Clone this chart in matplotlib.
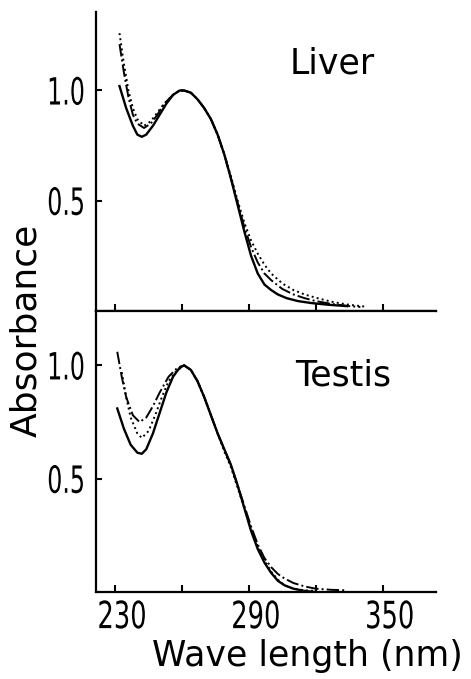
import matplotlib.pyplot as plt
from matplotlib.patheffects import AbstractPathEffect
from matplotlib.transforms import Affine2D
import numpy as np

# Liver spectra (wavelength nm, absorbance)
liv_solid_wl = [232, 235, 238, 240, 242, 244, 247, 250, 253, 256, 259, 261, 264, 267, 270, 273,
                276, 279, 282, 285, 288, 291, 294, 297, 300, 303, 307, 312, 318, 326, 334]
liv_solid = [1.02, 0.92, 0.84, 0.80, 0.79, 0.80, 0.84, 0.89, 0.94, 0.98, 1.0, 1.0, 0.99, 0.96, 0.92, 0.87,
             0.80, 0.71, 0.60, 0.48, 0.36, 0.25, 0.17, 0.12, 0.095, 0.075, 0.058, 0.045, 0.036, 0.028, 0.022]

liv_dot_wl = [232, 234, 236, 238, 240, 243, 246, 249, 252, 256, 259, 261, 264, 267, 270, 273, 276, 279,
              282, 285, 288, 291, 294, 297, 300, 305, 310, 315, 320, 327, 335, 342]
liv_dot = [1.26, 1.12, 1.00, 0.92, 0.87, 0.84, 0.86, 0.90, 0.94, 0.98, 1.0, 1.0, 0.99, 0.96, 0.92, 0.87, 0.80, 0.71,
           0.61, 0.50, 0.40, 0.32, 0.26, 0.21, 0.17, 0.125, 0.095, 0.075, 0.06, 0.042, 0.028, 0.02]

liv_dd_wl = [232, 234, 236, 238, 240, 243, 246, 249, 252, 256, 259, 261, 264, 267, 270, 273, 276, 279,
             282, 285, 288, 291, 294, 297, 300, 305, 310, 315, 320, 327, 335, 340]
liv_dd = [1.21, 1.08, 0.97, 0.89, 0.85, 0.83, 0.85, 0.89, 0.94, 0.98, 1.0, 1.0, 0.99, 0.96, 0.92, 0.87, 0.80, 0.71,
          0.60, 0.49, 0.38, 0.29, 0.22, 0.17, 0.14, 0.10, 0.075, 0.058, 0.045, 0.032, 0.022, 0.018]

# Testis spectra
tes_solid_wl = [231, 234, 237, 240, 242, 244, 247, 250, 253, 256, 259, 261, 264, 267, 270, 273, 276, 279,
                282, 285, 288, 291, 294, 297, 300, 303, 306, 310, 315, 320]
tes_solid = [0.81, 0.72, 0.65, 0.615, 0.61, 0.63, 0.70, 0.79, 0.88, 0.95, 0.99, 1.0, 0.98, 0.93, 0.86, 0.78, 0.70, 0.63,
             0.56, 0.47, 0.37, 0.27, 0.19, 0.13, 0.085, 0.05, 0.03, 0.015, 0.005, 0.0]

tes_dd_wl = [231, 233, 235, 238, 241, 244, 247, 250, 254, 258, 261, 264, 267, 270, 273, 276, 279, 282, 285,
             288, 291, 294, 297, 300, 303, 306, 310, 315, 320, 327, 333]
tes_dd = [1.06, 0.95, 0.86, 0.78, 0.75, 0.77, 0.82, 0.88, 0.95, 0.99, 1.0, 0.98, 0.93, 0.86, 0.78, 0.70, 0.63, 0.56, 0.47,
          0.38, 0.29, 0.21, 0.15, 0.11, 0.08, 0.06, 0.04, 0.025, 0.015, 0.01, 0.008]

tes_dot_wl = [233, 235, 237, 240, 242, 245, 248, 251, 254, 257, 261, 264, 267, 270, 273, 276, 279, 282, 285,
              288, 291, 294, 297, 300, 303, 306, 310, 315, 320]
tes_dot = [0.97, 0.86, 0.77, 0.70, 0.68, 0.71, 0.78, 0.86, 0.93, 0.97, 1.0, 0.98, 0.93, 0.86, 0.78, 0.70, 0.62, 0.55, 0.46,
           0.37, 0.28, 0.20, 0.14, 0.09, 0.055, 0.03, 0.015, 0.008, 0.005]

xticks_major = [230, 290, 350]
xticks_minor = [260, 320]
yticks = [0.5, 1.0]


# the original lettering is tall and narrow: stretch glyphs vertically
class Stretch(AbstractPathEffect):
    def __init__(self, sx, sy, anchor='center', dx=0):
        super().__init__()
        self.sx, self.sy = sx, sy
        self.anchor = anchor
        self.dx = dx

    def draw_path(self, renderer, gc, tpath, affine, rgbFace=None):
        ext = tpath.get_extents()
        cx = ext.x1 if self.anchor == 'right' else 0.5 * (ext.x0 + ext.x1)
        cy = 0.5 * (ext.y0 + ext.y1)
        t = (Affine2D().translate(-cx, -cy).scale(self.sx, self.sy).translate(cx, cy)
             + affine + Affine2D().translate(self.dx, 0))
        renderer.draw_path(gc, tpath, t, rgbFace)


fig = plt.figure(figsize=(4.71, 6.79), dpi=100)
ax_top = fig.add_axes([0.204, 0.542, 0.722, 0.440])
ax_bot = fig.add_axes([0.204, 0.128, 0.722, 0.414])

for ax, data in [(ax_top, [(liv_solid_wl, liv_solid, '-'), (liv_dot_wl, liv_dot, ':'), (liv_dd_wl, liv_dd, '-.')]),
                 (ax_bot, [(tes_solid_wl, tes_solid, '-'), (tes_dot_wl, tes_dot, ':'), (tes_dd_wl, tes_dd, '-.')])]:
    for wl, ab, ls in data:
        ax.plot(wl, ab, color='black', lw=1.7 if ls == '-' else 1.4, ls=ls)
    ax.set_xlim(221.5, 374)
    ax.spines['right'].set_visible(False)
    for s in ['left', 'bottom', 'top']:
        ax.spines[s].set_linewidth(1.6)
    ax.set_xticks(xticks_major)
    ax.set_xticks(xticks_minor, minor=True)
    ax.tick_params(axis='x', which='both', direction='in', length=5, width=1.5)
    ax.tick_params(axis='y', direction='in', length=4, width=1.5, pad=8)
    ax.set_yticks(yticks)
    for lab in ax.set_yticklabels([f'{v:.1f}' for v in yticks], fontsize=18):
        lab.set_path_effects([Stretch(0.95, 1.5, 'right')])

ax_top.spines['top'].set_visible(False)
ax_top.set_ylim(0, 1.355)
ax_top.set_xticklabels([])
ax_bot.set_ylim(0, 1.24)
for lab in ax_bot.set_xticklabels([str(t) for t in xticks_major], fontsize=18):
    lab.set_path_effects([Stretch(1.03, 1.5, dx=7)])
ax_bot.tick_params(axis='x', pad=9)

ax_top.text(0.57, 0.829, 'Liver', transform=ax_top.transAxes, fontsize=25, ha='left', va='center')
ax_bot.text(0.585, 0.769, 'Testis', transform=ax_bot.transAxes, fontsize=25, ha='left', va='center')

fig.text(0.652, 0.034, 'Wave length (nm)', fontsize=25, ha='center', va='center')
fig.text(0.056, 0.514, 'Absorbance', fontsize=26, rotation=90, ha='center', va='center')

fig.savefig('out.png', dpi=100)
